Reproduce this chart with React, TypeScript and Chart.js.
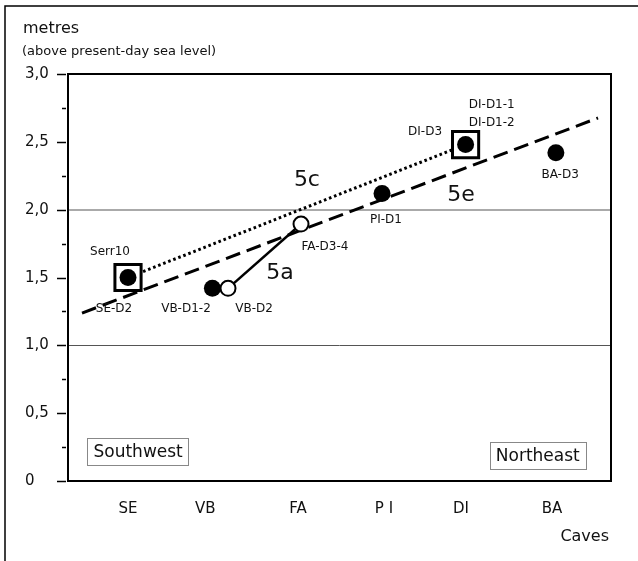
import React, { useEffect, useRef } from "react";
import { Chart, registerables } from "chart.js";

Chart.register(...registerables);

// Categories (caves) and their positions on the horizontal axis
const caveLabels = ["SE", "VB", "FA", "P I", "DI", "BA"];
const caveTickX = [0, 0.915, 2.014, 3.033, 3.945, 5.024];

// Filled circles (samples)
const filledX = [0, 1.0, 3.01, 4.0, 5.07];
const filledY = [1.5, 1.42, 2.12, 2.48, 2.42];

// Open circles (5a samples)
const openX = [1.185, 2.05];
const openY = [1.42, 1.894];

// Squared samples (5c)
const squareX = [0, 4.0];
const squareY = [1.5, 2.48];

// 5e trend line
const line5eX = [-0.545, 5.569];
const line5eY = [1.238, 2.676];

// Y ticks
const yMin = 0;
const yMax = 3;
const yStep = 0.25;

// Sample / stage labels
const labelTexts = ["Serr10", "SE-D2", "VB-D1-2", "VB-D2", "FA-D3-4", "PI-D1", "DI-D3", "DI-D1-1", "DI-D1-2", "BA-D3"];
const labelX = [-0.213, -0.166, 0.687, 1.493, 2.334, 3.057, 3.52, 4.31, 4.31, 5.12];
const labelY = [1.688, 1.268, 1.268, 1.268, 1.725, 1.924, 2.57, 2.775, 2.64, 2.255];

const stageTexts = ["5a", "5c", "5e"];
const stageX = [1.8, 2.12, 3.945];
const stageY = [1.533, 2.219, 2.108];

const regionTexts = ["Southwest", "Northeast"];
const regionX = [0.12, 4.855];
const regionY = [0.214, 0.188];

const FONT = "'DejaVu Sans', sans-serif";

const pts = (xs: number[], ys: number[]) => xs.map((x, i) => ({ x, y: ys[i] }));
const isMajor = (v: number) => Math.abs(v / 0.5 - Math.round(v / 0.5)) < 1e-6;
const fmt = (v: number) => (v === 0 ? "0" : v.toFixed(1).replace(".", ","));

export default function App() {
  const ref = useRef<HTMLCanvasElement | null>(null);

  useEffect(() => {
    document.body.style.margin = "0";
    const canvas = ref.current;
    if (!canvas) return;

    const decor = {
      id: "decor",
      afterDraw(chart: any) {
        const { ctx, chartArea: a, scales } = chart;
        const xs = scales.x;
        const ys = scales.y;
        ctx.save();
        // outer frame (top and left)
        ctx.strokeStyle = "#000";
        ctx.lineWidth = 1.5;
        ctx.beginPath();
        ctx.moveTo(638, 6);
        ctx.lineTo(5, 6);
        ctx.lineTo(5, 561);
        ctx.stroke();

        // plot border
        ctx.lineWidth = 2;
        ctx.strokeRect(a.left, a.top, a.right - a.left, a.bottom - a.top);

        // y tick marks and labels
        ctx.fillStyle = "#111";
        ctx.font = `15px ${FONT}`;
        ctx.textAlign = "left";
        ctx.textBaseline = "middle";
        for (let i = 0; yMin + i * yStep <= yMax + 1e-9; i++) {
          const v = yMin + i * yStep;
          const py = Math.round(ys.getPixelForValue(v)) + 0.5;
          const major = isMajor(v);
          ctx.lineWidth = 1.5;
          ctx.beginPath();
          ctx.moveTo(a.left - (major ? 11 : 6), py);
          ctx.lineTo(a.left - 2, py);
          ctx.stroke();
          if (major) ctx.fillText(fmt(v), 25, py);
        }

        // axis titles
        ctx.textAlign = "left";
        ctx.font = `16px ${FONT}`;
        ctx.fillText("metres", 23, 29);
        ctx.font = `13px ${FONT}`;
        ctx.fillText("(above present-day sea level)", 22, 52);
        ctx.textAlign = "right";
        ctx.font = `16px ${FONT}`;
        ctx.fillText("Caves", 609, 537);

        // sample labels
        ctx.textAlign = "center";
        ctx.font = `12px ${FONT}`;
        labelTexts.forEach((t, i) => {
          ctx.fillText(t, xs.getPixelForValue(labelX[i]), ys.getPixelForValue(labelY[i]));
        });
        ctx.font = `22px ${FONT}`;
        stageTexts.forEach((t, i) => {
          ctx.fillText(t, xs.getPixelForValue(stageX[i]), ys.getPixelForValue(stageY[i]));
        });

        // region boxes
        ctx.font = `17px ${FONT}`;
        regionTexts.forEach((t, i) => {
          const cx = xs.getPixelForValue(regionX[i]);
          const cy = ys.getPixelForValue(regionY[i]);
          const w = ctx.measureText(t).width + 12;
          const h = 27;
          ctx.fillStyle = "#fff";
          ctx.fillRect(cx - w / 2, cy - h / 2, w, h);
          ctx.strokeStyle = "#888";
          ctx.lineWidth = 1;
          ctx.strokeRect(Math.round(cx - w / 2) + 0.5, Math.round(cy - h / 2) + 0.5, Math.round(w), h);
          ctx.fillStyle = "#111";
          ctx.fillText(t, cx, cy + 1);
        });
        ctx.restore();
      },
    };

    const chart = new Chart(canvas, {
      type: "scatter",
      data: {
        datasets: [
          {
            label: "filled",
            data: pts(filledX, filledY),
            pointRadius: 8.5,
            pointBackgroundColor: "#000",
            pointBorderWidth: 0,
            showLine: false,
            order: 0,
          },
          {
            label: "open",
            data: pts(openX, openY),
            pointRadius: 7.5,
            pointBackgroundColor: "#fff",
            pointBorderColor: "#000",
            pointBorderWidth: 2,
            showLine: false,
            order: 1,
          },
          {
            label: "squares",
            data: pts(squareX, squareY),
            pointStyle: "rect",
            pointRadius: 18.5,
            pointBackgroundColor: "#fff",
            pointBorderColor: "#000",
            pointBorderWidth: 3,
            showLine: false,
            order: 2,
          },
          {
            label: "5a",
            data: pts(openX, openY),
            showLine: true,
            borderColor: "#000",
            borderWidth: 2.5,
            pointRadius: 0,
            order: 3,
          },
          {
            label: "5c",
            data: pts(squareX, squareY),
            showLine: true,
            borderColor: "#000",
            borderWidth: 3,
            borderDash: [2.6, 2.8],
            pointRadius: 0,
            order: 4,
          },
          {
            label: "5e",
            data: pts(line5eX, line5eY),
            showLine: true,
            borderColor: "#000",
            borderWidth: 3,
            borderDash: [15, 7],
            pointRadius: 0,
            order: 5,
          },
        ],
      },
      options: {
        animation: false,
        responsive: false,
        events: [],
        layout: { padding: { top: 74, right: 27, left: 0, bottom: 0 } },
        plugins: { legend: { display: false }, tooltip: { enabled: false }, title: { display: false } },
        scales: {
          x: {
            type: "linear",
            min: -0.711,
            max: 5.723,
            afterFit: (s: any) => {
              s.height = 80;
            },
            afterBuildTicks: (s: any) => {
              s.ticks = caveTickX.map((v) => ({ value: v }));
            },
            grid: { display: false, drawTicks: false },
            border: { display: false },
            ticks: {
              autoSkip: false,
              maxRotation: 0,
              padding: 19,
              color: "#111",
              font: { family: FONT, size: 15 },
              callback: (_v: any, i: number) => caveLabels[i],
            },
          },
          y: {
            type: "linear",
            min: yMin,
            max: yMax,
            afterFit: (s: any) => {
              s.width = 68;
            },
            grid: {
              drawTicks: false,
              color: (c: any) => (c.tick && c.tick.value === 2 ? "#aaa" : c.tick && c.tick.value === 1 ? "#555" : "rgba(0,0,0,0)"),
              lineWidth: (c: any) => (c.tick && c.tick.value === 2 ? 2 : 1),
            },
            border: { display: false },
            ticks: {
              display: false,
              stepSize: yStep,
            },
          },
        },
      },
      plugins: [decor],
    });

    return () => chart.destroy();
  }, []);

  return (
    <div style={{ width: 638, height: 561 }}>
      <canvas ref={ref} width={638} height={561} style={{ display: "block" }} />
    </div>
  );
}
